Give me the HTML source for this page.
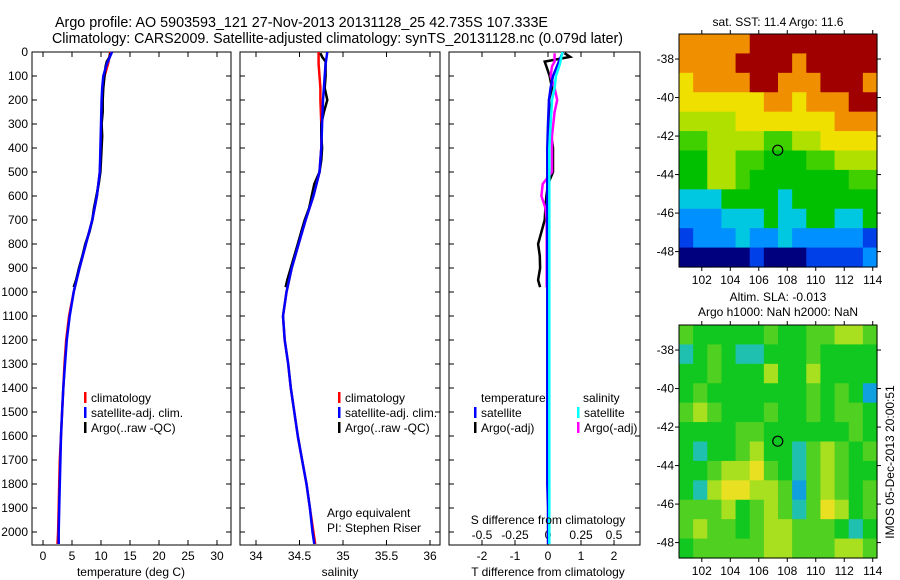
<!DOCTYPE html>
<html><head><meta charset="utf-8"><style>
body{margin:0;background:#fff;}
svg{display:block;font-family:"Liberation Sans",sans-serif;}
text{fill:#000;}
</style></head><body>
<svg id="fig" width="900" height="580" viewBox="0 0 900 580">
<text x="55" y="27" font-size="14.5" textLength="493" lengthAdjust="spacingAndGlyphs">Argo profile: AO 5903593_121 27-Nov-2013 20131128_25 42.735S 107.333E</text>
<text x="52" y="43" font-size="14.5" textLength="571" lengthAdjust="spacingAndGlyphs">Climatology: CARS2009. Satellite-adjusted climatology: synTS_20131128.nc (0.079d later)</text>
<text x="778" y="26" font-size="12" text-anchor="middle">sat. SST: 11.4 Argo: 11.6</text>
<text x="778" y="301" font-size="12" text-anchor="middle">Altim. SLA: -0.013</text>
<text x="778" y="316" font-size="12" text-anchor="middle">Argo h1000: NaN h2000: NaN</text>
<text transform="translate(894,462) rotate(-90)" font-size="12" text-anchor="middle">IMOS 05-Dec-2013 20:00:51</text>
<g id="plots"></g>
</svg>
<script>
const depth = [0,50,100,150,200,300,400,500,600,700,800,900,1000,1100,1200,1300,1400,1500,1600,1700,1800,1900,2000,2050];
const tempClim = [11.6,11.2,10.6,10.3,10.2,10.1,10.0,9.8,9.3,8.5,7.4,6.3,5.3,4.5,4.0,3.7,3.5,3.3,3.1,2.9,2.8,2.7,2.6,2.5];
const tempSat = [11.9,11.0,10.4,10.2,10.1,10.0,9.9,9.8,9.3,8.5,7.4,6.3,5.3,4.6,4.1,3.8,3.5,3.3,3.1,3.0,2.9,2.8,2.7,2.7];
const salClim = [34.72,34.72,34.73,34.74,34.74,34.75,34.75,34.73,34.66,34.57,34.49,34.41,34.35,34.31,34.33,34.37,34.40,34.44,34.48,34.53,34.58,34.62,34.66,34.68];
const salSat = [34.82,34.80,34.79,34.78,34.77,34.76,34.75,34.73,34.66,34.57,34.49,34.41,34.35,34.31,34.33,34.37,34.40,34.44,34.48,34.53,34.58,34.62,34.65,34.67];
const tDiffSat = [0.45,0.3,0.15,0.08,0.03,0,-0.02,-0.02,-0.02,-0.02,-0.02,-0.02,-0.02,-0.02,-0.02,-0.02,-0.02,-0.02,-0.02,-0.02,-0.02,0,0,0];
const sDiffSat = [0.11,0.09,0.06,0.05,0.03,0.02,0.01,0.01,0.01,0.01,0.01,0.01,0.01,0.01,0.01,0.01,0.01,0.01,0.01,0.01,0.01,0.01,0.01,0.01];
const argoDepth = [5,20,40,60,100,150,200,250,300,350,400,450,500,550,600,650,700,750,800,850,900,950,980];
const tempArgo = [11.6,11.5,11.0,10.8,10.6,10.4,10.3,10.3,10.1,10.2,10.1,10.0,9.9,9.6,9.2,8.8,8.5,8.0,7.3,6.8,6.2,5.7,5.3];
const salArgo = [34.74,34.76,34.80,34.80,34.80,34.79,34.82,34.78,34.75,34.75,34.76,34.75,34.73,34.67,34.64,34.61,34.56,34.52,34.48,34.44,34.40,34.36,34.34];
const tDiffArgo = [0.5,0.67,-0.1,-0.05,0.05,0.12,0.03,0.05,0.05,0.1,0.15,0.15,0.15,0.0,-0.05,-0.08,-0.1,-0.2,-0.3,-0.25,-0.24,-0.3,-0.24];
const sDiffArgo = [0.05,0.05,0.05,0.03,0.02,0.05,0.07,0.05,0.04,0.03,0.03,0.03,0.03,-0.04,-0.05,-0.02,-0.01,-0.01,-0.01,-0.01,-0.01,-0.01,-0.01];
const depthTicks = [0,100,200,300,400,500,600,700,800,900,1000,1100,1200,1300,1400,1500,1600,1700,1800,1900,2000];
const tempTicks = [0,5,10,15,20,25,30];
const salTicks = [34,34.5,35,35.5,36];
const tDiffTicks = [-2,-1,0,1,2];
const sDiffTicks = [-0.5,-0.25,0,0.25,0.5];
const lonTicks = [102,104,106,108,110,112,114];
const latTicks = [-38,-40,-42,-44,-46,-48];
const sstGrid = [
"88888999999999","88889999899999","78888998889998","77777788788899",
"66667777777888","55666655667777","44665544455666","44665444444455",
"33344443444444","22233343344334","12223223222221","00000100011112"];
const slaGrid = [
"54444454455665","34543344454444","44544464464444","45444444454542",
"56544454454554","44445544444454","43445644356545","44566754356544",
"43677665256545","55564565357645","56554566555434","45555566555665"];
const argoLon = 107.333, argoLat = -42.735;

const NS='http://www.w3.org/2000/svg';
const root=document.getElementById('plots');
function el(tag,attrs,parent,txt){const e=document.createElementNS(NS,tag);for(const k in attrs)e.setAttribute(k,attrs[k]);if(txt!==undefined)e.textContent=txt;(parent||root).appendChild(e);return e;}
const yD=d=>52+d*0.24;
const xT=t=>43+t*5.8;
const xS=s=>256+(s-34)*87;
const xTD=t=>548+t*33;
const xSD=s=>548+s*132;
const PB=545;
function frame(x0,x1,name){
  const g=el('g',{});
  
  
  el('rect',{x:x0,y:52,width:x1-x0,height:PB-52,fill:'#fff',stroke:'#000','stroke-width':1},g);
  depthTicks.forEach(d=>{el('line',{x1:x0,x2:x0+5,y1:yD(d),y2:yD(d),stroke:'#000'},g);el('line',{x1:x1,x2:x1-5,y1:yD(d),y2:yD(d),stroke:'#000'},g);});
  return g;
}
function xticks(g,ticks,fx,labY,fmt){ticks.forEach(v=>{const x=fx(v);el('line',{x1:x,x2:x,y1:52,y2:57,stroke:'#000'},g);el('line',{x1:x,x2:x,y1:PB,y2:PB-5,stroke:'#000'},g);const t=el('text',{x:x,y:labY,'font-size':12,'text-anchor':'middle'},g,fmt?fmt(v):String(v));});}
function line(g,ds,vs,fx,color,name){const pts=ds.map((d,i)=>fx(vs[i]).toFixed(1)+','+yD(d).toFixed(1)).join(' ');const p=el('polyline',{points:pts,fill:'none',stroke:color,'stroke-width':2.5},g);}
function legend(g,x,y,color,label){el('rect',{x:x,y:y-10,width:2.5,height:11,fill:color},g);const t=el('text',{x:x+7,y:y,'font-size':12},g,label);}

const g1=frame(32,231,'temperature-panel');
depthTicks.forEach(d=>{const t=el('text',{x:28,y:yD(d)+4,'font-size':12,'text-anchor':'end'},g1,String(d));});
xticks(g1,tempTicks,xT,560);
line(g1,depth,tempClim,xT,'#f00','temp-climatology-line');
line(g1,argoDepth,tempArgo,xT,'#000','temp-argo-line');
line(g1,depth,tempSat,xT,'#00f','temp-satellite-line');
legend(g1,84,402,'#f00','climatology');legend(g1,84,417,'#00f','satellite-adj. clim.');legend(g1,84,432,'#000','Argo(..raw -QC)');
el('text',{x:131,y:576,'font-size':12,'text-anchor':'middle'},g1,'temperature (deg C)');
const g2=frame(240,440,'salinity-panel');
xticks(g2,salTicks,xS,560);
line(g2,depth,salClim,xS,'#f00','sal-climatology-line');
line(g2,argoDepth,salArgo,xS,'#000','sal-argo-line');
line(g2,depth,salSat,xS,'#00f','sal-satellite-line');
legend(g2,338,402,'#f00','climatology');legend(g2,338,417,'#00f','satellite-adj. clim.');legend(g2,338,432,'#000','Argo(..raw -QC)');
el('text',{x:327,y:517,'font-size':12},g2,'Argo equivalent');
el('text',{x:327,y:532,'font-size':12},g2,'PI: Stephen Riser');
el('text',{x:340,y:576,'font-size':12,'text-anchor':'middle'},g2,'salinity');
const g3=frame(449,640,'difference-panel');
xticks(g3,tDiffTicks,xTD,560);
sDiffTicks.forEach(v=>{const t=el('text',{x:xSD(v),y:539,'font-size':12,'text-anchor':'middle'},g3,String(v));});
line(g3,argoDepth,tDiffArgo,xTD,'#000','tdiff-argo-line');
line(g3,argoDepth,sDiffArgo,xSD,'#f0f','sdiff-argo-line');
line(g3,depth,tDiffSat,xTD,'#00f','tdiff-satellite-line');
line(g3,depth,sDiffSat,xSD,'#0ff','sdiff-satellite-line');
el('text',{x:481,y:402,'font-size':12},g3,'temperature');el('text',{x:583,y:402,'font-size':12},g3,'salinity');
legend(g3,474,417,'#00f','satellite');legend(g3,474,432,'#000','Argo(-adj)');
legend(g3,577,417,'#0ff','satellite');legend(g3,577,432,'#f0f','Argo(-adj)');
el('text',{x:548,y:524,'font-size':12,'text-anchor':'middle'},g3,'S difference from climatology');
el('text',{x:548,y:576,'font-size':12,'text-anchor':'middle'},g3,'T difference from climatology');

const palette=['#00007f','#0040e8','#0090ff','#00c8e0','#00c000','#40d000','#b0e000','#f0e000','#f09000','#a00000'];
const slaPalette=['#0040a0','#0070e0','#10a0e0','#20c0b0','#10c820','#50d020','#a8e020','#e8e020','#f0c020','#f09000'];
function drawMap(grid,pal,top,name){
  const L=679,R=877,T=top,B=top+233;
  const lonL=100.4,lonR=114.3,latT=-36.7,latB=-48.8;
  const xL=v=>L+(v-lonL)/(lonR-lonL)*(R-L);
  const yL=v=>T+(latT-v)/(latT-latB)*(B-T);
  const g=el('g',{});
  
  
  const rows=grid.length,cols=grid[0].length;
  const cw=(R-L)/cols,ch=(B-T)/rows;
  grid.forEach((row,r)=>{for(let c=0;c<cols;c++){const cell=el('rect',{x:L+c*cw,y:T+r*ch,width:cw+0.6,height:ch+0.6,fill:pal[+row[c]]},g);}});
  el('rect',{x:L,y:T,width:R-L,height:B-T,fill:'none',stroke:'#000'},g);
  lonTicks.forEach(v=>{const x=xL(v);el('line',{x1:x,x2:x,y1:T,y2:T-4,stroke:'#000'},g);el('line',{x1:x,x2:x,y1:B,y2:B+4,stroke:'#000'},g);el('text',{x:x,y:B+17,'font-size':12,'text-anchor':'middle'},g,String(v));});
  latTicks.forEach(v=>{const y=yL(v);el('line',{x1:L,x2:L-4,y1:y,y2:y,stroke:'#000'},g);el('line',{x1:R,x2:R+4,y1:y,y2:y,stroke:'#000'},g);el('text',{x:L-5,y:y+4,'font-size':12,'text-anchor':'end'},g,String(v));});
  const m=el('circle',{cx:xL(argoLon),cy:yL(argoLat),r:5,fill:'none',stroke:'#000','stroke-width':1.2},g);
  
  
}
drawMap(sstGrid,palette,34,'sst-map');
drawMap(slaGrid,slaPalette,325,'sla-map');
</script>
</body></html>
